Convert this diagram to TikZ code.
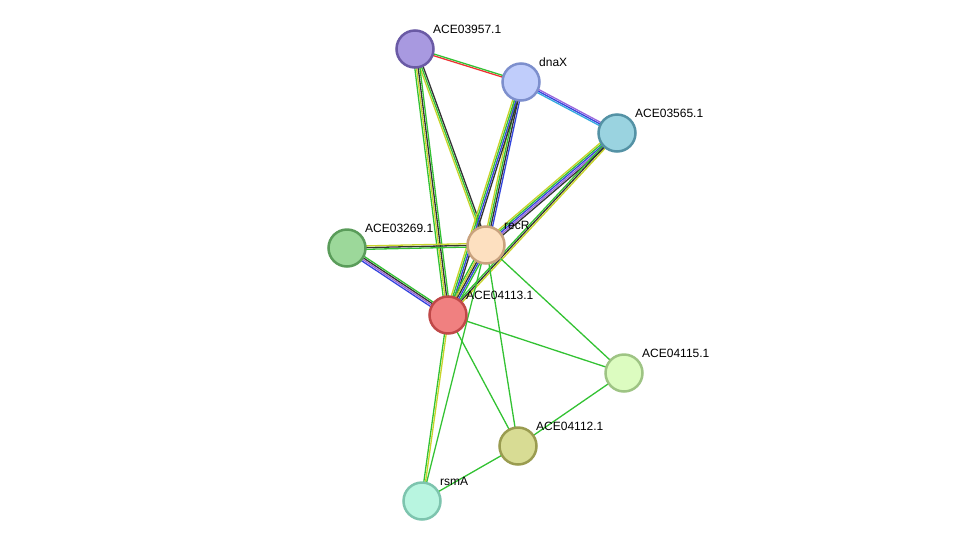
\documentclass[tikz,border=0pt]{standalone}
\usepackage{fontspec}
\setmainfont{Liberation Sans}
\usetikzlibrary{calc}
\definecolor{cg}{HTML}{33C233}
\definecolor{cy}{HTML}{C8D42A}
\definecolor{ck}{HTML}{333333}
\definecolor{cb}{HTML}{3344DD}
\definecolor{cp}{HTML}{9966DD}
\definecolor{cc}{HTML}{33AADD}
\definecolor{cr}{HTML}{EE3333}
\tikzset{prot/.style={circle,draw,line width=2.5pt,minimum size=37pt,inner sep=0pt},
 lab/.style={font=\fontsize{12pt}{13pt}\selectfont,anchor=south west,inner sep=1pt}}
\newcommand{\edgemulti}[4]{% a b n colors
 \foreach \c [count=\i] in {#4}{
  \pgfmathsetmacro{\o}{(\i-(#3+1)/2)*1.7}
  \draw[\c,line width=1.3pt] ($(#1.center)!\o pt!90:(#2.center)$) -- ($(#2.center)!\o pt!-90:(#1.center)$);
 }}
\begin{document}
\begin{tikzpicture}[x=1pt,y=-1pt]
\useasboundingbox (0,0) rectangle (975,547);
\coordinate (A) at (415,49);
\coordinate (D) at (521,82);
\coordinate (C) at (617,133);
\coordinate (R) at (486,245);
\coordinate (H) at (347,248);
\coordinate (M) at (448,315);
\coordinate (F) at (624,373);
\coordinate (T) at (518,446);
\coordinate (S) at (422,501);
\edgemulti{A}{D}{2}{cr,cg}
\edgemulti{A}{R}{3}{cy,cg,ck}
\edgemulti{A}{M}{4}{cg,cy,ck,cg}
\edgemulti{D}{C}{3}{cc,cb,cp}
\edgemulti{D}{R}{4}{cy,cg,ck,cb}
\edgemulti{D}{M}{4}{cy,cg,cb,ck}
\edgemulti{C}{R}{5}{cy,cg,cb,cp,ck}
\edgemulti{C}{M}{3}{cg,ck,cy}
\edgemulti{H}{R}{3}{cg,ck,cy}
\edgemulti{H}{M}{4}{cb,cp,ck,cg}
\edgemulti{R}{M}{5}{cg,cy,ck,cb,cg}
\edgemulti{M}{S}{2}{cg,cy}
\foreach \a/\b in {R/F,R/T,R/S,M/F,M/T,F/T,T/S}{\draw[cg,line width=1.3pt] (\a) -- (\b);}
\node[prot,fill={rgb,255:red,168;green,153;blue,224},draw={rgb,255:red,106;green,90;blue,165}] (nA) at (A) {};
\node[prot,fill={rgb,255:red,192;green,205;blue,251},draw={rgb,255:red,125;green,143;blue,205}] (nD) at (D) {};
\node[prot,fill={rgb,255:red,154;green,211;blue,224},draw={rgb,255:red,84;green,146;blue,165}] (nC) at (C) {};
\node[prot,fill={rgb,255:red,253;green,224;blue,192},draw={rgb,255:red,201;green,162;blue,126}] (nR) at (R) {};
\node[prot,fill={rgb,255:red,156;green,216;blue,154},draw={rgb,255:red,90;green,156;blue,90}] (nH) at (H) {};
\node[prot,fill={rgb,255:red,240;green,128;blue,128},draw={rgb,255:red,192;green,72;blue,72}] (nM) at (M) {};
\node[prot,fill={rgb,255:red,220;green,252;blue,192},draw={rgb,255:red,158;green,196;blue,132}] (nF) at (F) {};
\node[prot,fill={rgb,255:red,216;green,220;blue,148},draw={rgb,255:red,154;green,156;blue,80}] (nT) at (T) {};
\node[prot,fill={rgb,255:red,184;green,245;blue,224},draw={rgb,255:red,125;green,196;blue,174}] (nS) at (S) {};
\node[lab] at (432,35) {ACE03957.1};
\node[lab] at (538,68) {dnaX};
\node[lab] at (634,119) {ACE03565.1};
\node[lab] at (503,231) {recR};
\node[lab] at (364,234) {ACE03269.1};
\node[lab] at (465,301) {ACE04113.1};
\node[lab] at (641,359) {ACE04115.1};
\node[lab] at (535,432) {ACE04112.1};
\node[lab] at (439,487) {rsmA};
\end{tikzpicture}
\end{document}
